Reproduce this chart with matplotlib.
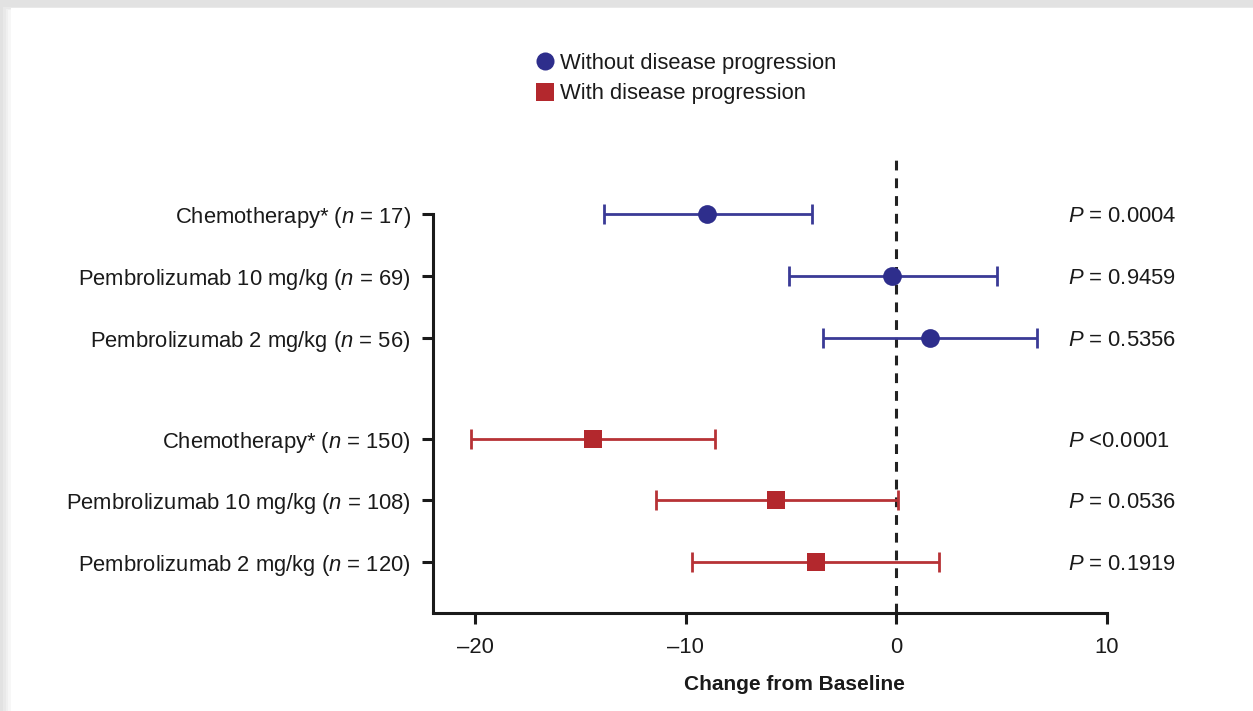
import matplotlib
matplotlib.use("Agg")
import matplotlib.pyplot as plt
from matplotlib.patches import Rectangle
from matplotlib.lines import Line2D

plt.rcParams['font.family'] = ['Liberation Sans', 'DejaVu Sans']
plt.rcParams['mathtext.fontset'] = 'custom'
plt.rcParams['mathtext.rm'] = 'Liberation Sans'
plt.rcParams['mathtext.it'] = 'Liberation Sans:italic'
plt.rcParams['mathtext.bf'] = 'Liberation Sans:bold'

# Data
labels = [
    r"Chemotherapy* ($\it{n}$ = 17)",
    r"Pembrolizumab 10 mg/kg ($\it{n}$ = 69)",
    r"Pembrolizumab 2 mg/kg ($\it{n}$ = 56)",
    r"Chemotherapy* ($\it{n}$ = 150)",
    r"Pembrolizumab 10 mg/kg ($\it{n}$ = 108)",
    r"Pembrolizumab 2 mg/kg ($\it{n}$ = 120)",
]
row_pos = [0, 1, 2, 3.63, 4.61, 5.61]
group = ["without", "without", "without", "with", "with", "with"]
estimate = [-9.0, -0.2, 1.6, -14.4, -5.7, -3.8]
ci_low = [-13.9, -5.1, -3.5, -20.2, -11.4, -9.7]
ci_high = [-4.0, 4.8, 6.7, -8.6, 0.1, 2.0]
p_values = [r"$\it{P}$ = 0.0004", r"$\it{P}$ = 0.9459", r"$\it{P}$ = 0.5356",
            r"$\it{P}$ <0.0001", r"$\it{P}$ = 0.0536", r"$\it{P}$ = 0.1919"]
x_ticks = [-20, -10, 0, 10]

BLUE = "#2e2e8c"
BLUE_LINE = "#3a3a96"
RED = "#b3282d"
RED_LINE = "#b73236"
FS = 15.8
style = {"without": (BLUE, BLUE_LINE, "o"), "with": (RED, RED_LINE, "s")}

fig = plt.figure(figsize=(12.53, 7.11), dpi=100)
fig.patch.set_facecolor("#e2e2e2")
# white card with a soft shadow edge
for i, c in enumerate(["#e9e9e9", "#f0f0f0", "#f7f7f7"]):
    fig.patches.append(Rectangle(((3 + 2.7 * i) / 1253, 0), 1, (704 - 1.5 * i) / 711,
                                 transform=fig.transFigure, facecolor=c,
                                 edgecolor="none", zorder=-5 + i))
fig.patches.append(Rectangle((11 / 1253, 0), 1, 703 / 711, transform=fig.transFigure,
                             facecolor="white", edgecolor="none", zorder=-1))

ax = fig.add_axes([433 / 1253, 98 / 711, 674 / 1253, 453 / 711])
ax.set_facecolor("none")

for y, g, est, lo, hi in zip(row_pos, group, estimate, ci_low, ci_high):
    mcolor, lcolor, marker = style[g]
    ax.errorbar(est, y, xerr=[[est - lo], [hi - est]], fmt="none",
                ecolor=lcolor, elinewidth=2.0, capsize=7, capthick=2.0, zorder=3)
    ax.plot(est, y, marker=marker, color=mcolor, markersize=13.5,
            markeredgewidth=0, linestyle="none", zorder=4)

ax.axvline(0, color="#222222", linestyle=(0, (3.2, 2.6)), linewidth=2.2, zorder=2)

ax.set_xlim(-22, 10)
ax.set_ylim(6.44, -0.87)
ax.set_yticks(row_pos)
ax.set_yticklabels(labels, fontsize=FS)
ax.set_xticks(x_ticks)
ax.set_xticklabels(["\u201320", "\u201310", "0", "10"], fontsize=FS)

for s in ["top", "right"]:
    ax.spines[s].set_visible(False)
for s in ["left", "bottom"]:
    ax.spines[s].set_linewidth(2.2)
    ax.spines[s].set_color("#1a1a1a")
ax.spines["left"].set_bounds(row_pos[-1] + 0.82, row_pos[0])
ax.tick_params(axis="both", length=8, width=2.2, color="#1a1a1a", labelcolor="#1a1a1a")
ax.tick_params(axis="y", pad=8)
ax.tick_params(axis="x", pad=9)

for y, p in zip(row_pos, p_values):
    ax.text(8.17, y, p, fontsize=FS, ha="left", va="center_baseline", color="#1a1a1a")

fig.text(794 / 1253, 1 - 684 / 711, "Change from Baseline", fontsize=15,
         fontweight="bold", ha="center", va="center", color="#1a1a1a")

handles = [
    Line2D([], [], linestyle="none", marker="o", color=BLUE, markersize=13, markeredgewidth=0),
    Line2D([], [], linestyle="none", marker="s", color=RED, markersize=13, markeredgewidth=0),
]
fig.legend(handles, ["Without disease progression", "With disease progression"],
           loc="upper left", bbox_to_anchor=(524 / 1253, 1 - 42 / 711), frameon=False,
           fontsize=FS, handlelength=0.9, handletextpad=0.25, labelspacing=0.42,
           borderpad=0, labelcolor="#1a1a1a")

fig.savefig("out.png", dpi=100, facecolor=fig.get_facecolor())
